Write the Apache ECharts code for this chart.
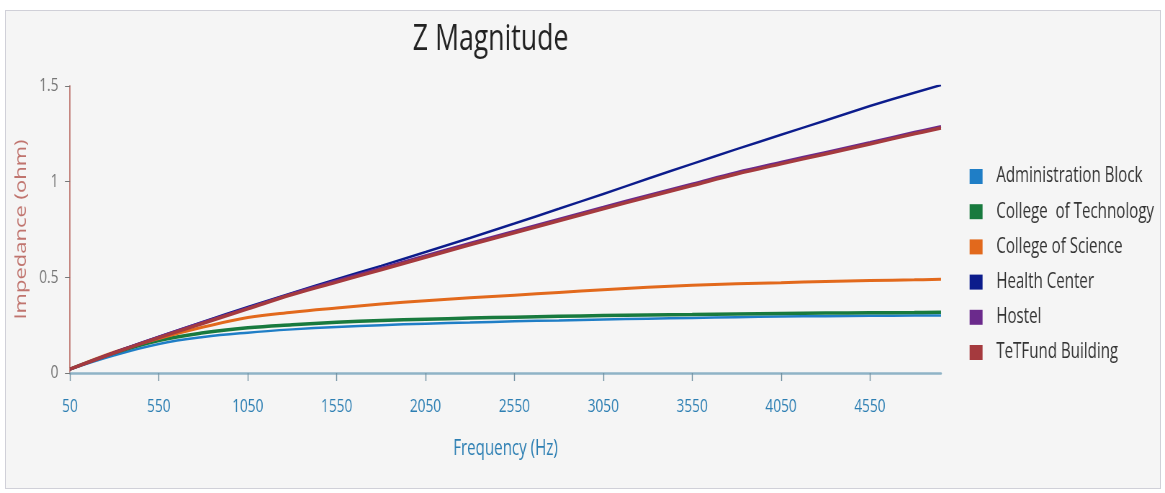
<!DOCTYPE html>
<html>
<head>
<meta charset="utf-8">
<script src="https://cdn.jsdelivr.net/npm/echarts@6/dist/echarts.min.js"></script>
<style>
  html, body { margin: 0; padding: 0; background: #ffffff; overflow: hidden; }
  #frame { position: absolute; left: 5px; top: 10px; width: 1154px; height: 477px; background: #f5f5f5; border: 1px solid #d0d0d8; }
  #chart { position: absolute; left: 0; top: 0; height: 493px; transform-origin: 0 0; }
</style>
</head>
<body>
<div id="frame"></div>
<div id="chart"></div>
<script>
const frequencies = [50, 300, 550, 800, 1050, 1300, 1550, 1800, 2050, 2300, 2550, 2800, 3050, 3300, 3550, 3800, 4050, 4300, 4550, 4800, 4950];
const xTickLabels = [50, 550, 1050, 1550, 2050, 2550, 3050, 3550, 4050, 4550];
const yTickLabels = [0, 0.5, 1, 1.5];
const seriesNames = ['Administration Block', 'College  of Technology', 'College of Science', 'Health Center', 'Hostel', 'TeTFund Building'];
const adminBlock = [0.02, 0.093, 0.152, 0.188, 0.211, 0.228, 0.241, 0.25, 0.258, 0.264, 0.27, 0.275, 0.28, 0.284, 0.288, 0.292, 0.295, 0.297, 0.299, 0.3, 0.301];
const collegeTech = [0.02, 0.105, 0.17, 0.21, 0.236, 0.252, 0.265, 0.274, 0.281, 0.287, 0.292, 0.296, 0.3, 0.303, 0.306, 0.309, 0.311, 0.313, 0.315, 0.316, 0.317];
const collegeScience = [0.02, 0.11, 0.18, 0.24, 0.29, 0.318, 0.34, 0.36, 0.378, 0.393, 0.407, 0.421, 0.435, 0.448, 0.458, 0.466, 0.472, 0.478, 0.483, 0.487, 0.49];
const healthCenter = [0.02, 0.108, 0.19, 0.268, 0.345, 0.418, 0.49, 0.56, 0.632, 0.706, 0.781, 0.858, 0.936, 1.015, 1.093, 1.17, 1.245, 1.32, 1.395, 1.465, 1.505];
const hostel = [0.02, 0.107, 0.188, 0.265, 0.34, 0.415, 0.482, 0.548, 0.613, 0.678, 0.741, 0.804, 0.866, 0.928, 0.988, 1.048, 1.101, 1.153, 1.205, 1.258, 1.288];
const tetfund = [0.02, 0.105, 0.185, 0.26, 0.335, 0.41, 0.475, 0.54, 0.605, 0.67, 0.733, 0.796, 0.858, 0.92, 0.98, 1.04, 1.093, 1.145, 1.197, 1.25, 1.28];

const seriesValues = [adminBlock, collegeTech, collegeScience, healthCenter, hostel, tetfund];
const colors = ['#1f7ec6', '#187a3e', '#e2691c', '#0c1c8c', '#6b2a8c', '#a53a3e'];
const widths = [2.5, 3.5, 3, 2.5, 3, 3.5];

// The reference is horizontally condensed: draw on a wider canvas and squeeze it.
const SX = 0.72;
const W = 1165, H = 493;
const px = x => x / SX;
const el = document.getElementById('chart');
el.style.width = px(W) + 'px';
el.style.transform = 'scaleX(' + SX + ')';

const FONT = "'Open Sans', 'Noto Sans', sans-serif";

const chart = echarts.init(el, null, { renderer: 'canvas', width: px(W), height: H });
chart.setOption({
  backgroundColor: 'transparent',
  animation: false,
  color: colors,
  title: {
    text: 'Z Magnitude',
    left: px(487),
    textAlign: 'center',
    top: 16,
    textStyle: { fontFamily: FONT, fontSize: 37, fontWeight: 'normal', color: '#222' }
  },
  legend: {
    orient: 'vertical',
    left: px(966),
    top: 161,
    itemWidth: 18,
    itemHeight: 15,
    itemGap: 14.2,
    icon: 'rect',
    data: seriesNames,
    textStyle: { fontFamily: FONT, fontSize: 21, color: '#333', padding: [0, 0, 0, 14] }
  },
  grid: { left: px(70), right: px(W) - px(941), top: 86, bottom: 120, containLabel: false },
  xAxis: {
    type: 'value',
    min: 50,
    max: 4950,
    name: 'Frequency (Hz)',
    nameLocation: 'middle',
    nameGap: 66,
    nameTextStyle: { fontFamily: FONT, fontSize: 21, color: '#2d7fb3' },
    axisLine: { show: true, lineStyle: { color: '#8fb3c6', width: 2.5 } },
    axisTick: { show: true, length: 8, lineStyle: { color: '#6f8fa0', width: 1.4 }, customValues: xTickLabels },
    axisLabel: { fontFamily: FONT, fontSize: 19, color: '#2d7fb3', margin: 24, customValues: xTickLabels, formatter: v => String(v) },
    splitLine: { show: false }
  },
  yAxis: {
    type: 'value',
    min: 0,
    max: 1.5,
    interval: 0.5,
    name: 'Impedance (ohm)',
    nameLocation: 'middle',
    nameGap: 56,
    nameTextStyle: { fontFamily: FONT, fontSize: 22, color: '#c0746e' },
    axisLine: { show: true, lineStyle: { color: '#c07a74', width: 1.8 } },
    axisTick: { show: true, length: 7, lineStyle: { color: '#777' } },
    axisLabel: { fontFamily: FONT, fontSize: 19, color: '#777', margin: 16, customValues: yTickLabels },
    splitLine: { show: false }
  },
  series: seriesNames.map((name, i) => ({
    name: name,
    type: 'line',
    smooth: 0.4,
    showSymbol: false,
    symbol: 'none',
    lineStyle: { width: widths[i], color: colors[i] },
    itemStyle: { color: colors[i] },
    data: frequencies.map((f, j) => [f, seriesValues[i][j]])
  }))
});
</script>
</body>
</html>
